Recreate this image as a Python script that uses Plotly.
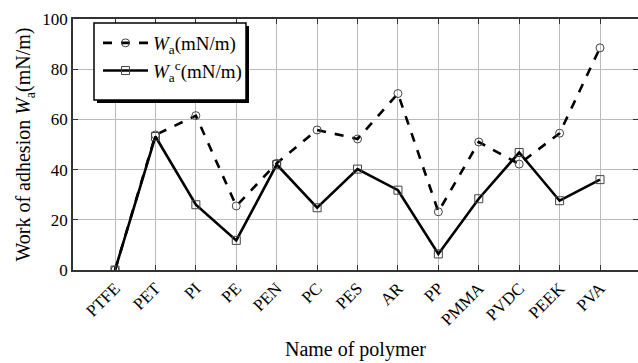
import plotly.graph_objects as go

polymers = ["PTFE", "PET", "PI", "PE", "PEN", "PC", "PES", "AR", "PP", "PMMA", "PVDC", "PEEK", "PVA"]
wa = [0, 53.8, 61.5, 25.5, 42.5, 55.8, 52.2, 70.3, 23.2, 51.0, 42.2, 54.5, 88.5]
wac = [0, 53.2, 26.0, 11.8, 42.0, 24.8, 40.2, 31.8, 6.4, 28.4, 46.8, 27.6, 36.0]

FONT = "Liberation Serif"

fig = go.Figure()
fig.add_trace(go.Scatter(
    x=polymers, y=wa, mode="lines+markers",
    name="<i>W</i><sub>a</sub>(mN/m)", legendgroup="a",
    line=dict(color="black", width=2.6, dash="dash"),
    marker=dict(symbol="circle-open", size=8, color="#444", line=dict(width=1)),
))
fig.add_trace(go.Scatter(
    x=polymers, y=wac, mode="lines+markers",
    name="<i>W</i><sub>a</sub><sup>c</sup>(mN/m)", legendgroup="b",
    line=dict(color="black", width=2.6),
    marker=dict(symbol="square-open", size=8, color="#444", line=dict(width=1)),
))

PW, PH = 565, 251
lx0, lx1, ly0, ly1 = 21 / PW, 173 / PW, 170 / PH, 247 / PH
dx, dy = 3 / PW, 3 / PH
fig.add_shape(type="rect", xref="paper", yref="paper",
              x0=lx0 + dx, x1=lx1 + dx, y0=ly0 - dy, y1=ly1 - dy,
              fillcolor="black", line=dict(width=0), layer="above")
fig.add_shape(type="rect", xref="paper", yref="paper",
              x0=lx0, x1=lx1, y0=ly0, y1=ly1,
              fillcolor="white", line=dict(width=1.5, color="black"), layer="above")

fig.update_layout(
    width=638, height=363,
    margin=dict(l=73, r=0, t=19, b=93),
    paper_bgcolor="white", plot_bgcolor="white",
    font=dict(family=FONT, size=17, color="black"),
    showlegend=True,
    legend=dict(x=lx0 + 4 / PW, y=ly1 - 1 / PH, xanchor="left", yanchor="top",
                bgcolor="rgba(0,0,0,0)", borderwidth=0,
                font=dict(size=19, family=FONT), itemwidth=45,
                tracegroupgap=0),
    xaxis=dict(
        type="category", range=[-1.04, 12.94],
        showgrid=True, gridcolor="#bbbbbb", gridwidth=1,
        showline=True, linecolor="#333", linewidth=1.5, mirror="ticks",
        ticks="inside", ticklen=5, tickcolor="#333",
        tickangle=-45, tickfont=dict(size=17, family=FONT),
        title=dict(text="Name of polymer", font=dict(size=20, family=FONT), standoff=14),
        zeroline=False, automargin=False,
    ),
    yaxis=dict(
        range=[0, 100], tickvals=[0, 20, 40, 60, 80, 100],
        showgrid=True, gridcolor="#bbbbbb", gridwidth=1,
        showline=True, linecolor="#333", linewidth=1.5, mirror="ticks",
        ticks="inside", ticklen=5, tickcolor="#333",
        tickfont=dict(size=17, family=FONT),
        title=dict(text="Work of adhesion <i>W</i><sub>a</sub>(mN/m)", font=dict(size=20, family=FONT), standoff=6),
        zeroline=False, automargin=False,
    ),
)

js = """
function fixTicks(){
  var els = document.querySelectorAll('.xtick text');
  els.forEach(function(el){
    var tr = el.getAttribute('transform') || '';
    if (tr.indexOf('matrix') === 0) return;
    var m1 = /translate\\(([-\\d.e]+)[ ,]+([-\\d.e]+)\\)/.exec(tr);
    var m2 = /rotate\\(([-\\d.e]+)(?:[ ,]+([-\\d.e]+)[ ,]+([-\\d.e]+))?\\)/.exec(tr);
    var tx = m1 ? parseFloat(m1[1]) : 0, ty = m1 ? parseFloat(m1[2]) : 0;
    var th = m2 ? parseFloat(m2[1]) : -45;
    var cx = (m2 && m2[2]) ? parseFloat(m2[2]) : 0, cy = (m2 && m2[3]) ? parseFloat(m2[3]) : 0;
    var r = th * Math.PI / 180, c = Math.cos(r), s = Math.sin(r);
    var e = tx + cx - (c * cx - s * cy), f = ty + cy - (s * cx + c * cy);
    var mat = 'matrix(' + [c, s, -s, c, e, f].join(',') + ')';
    el.setAttribute('transform', mat);
  });
}
var gd = document.querySelector('.js-plotly-plot');
fixTicks();
if (gd && gd.on) { gd.on('plotly_afterplot', fixTicks); }
setTimeout(fixTicks, 50);
setTimeout(fixTicks, 300);
"""
fig.write_html("out.html", post_script=js)
